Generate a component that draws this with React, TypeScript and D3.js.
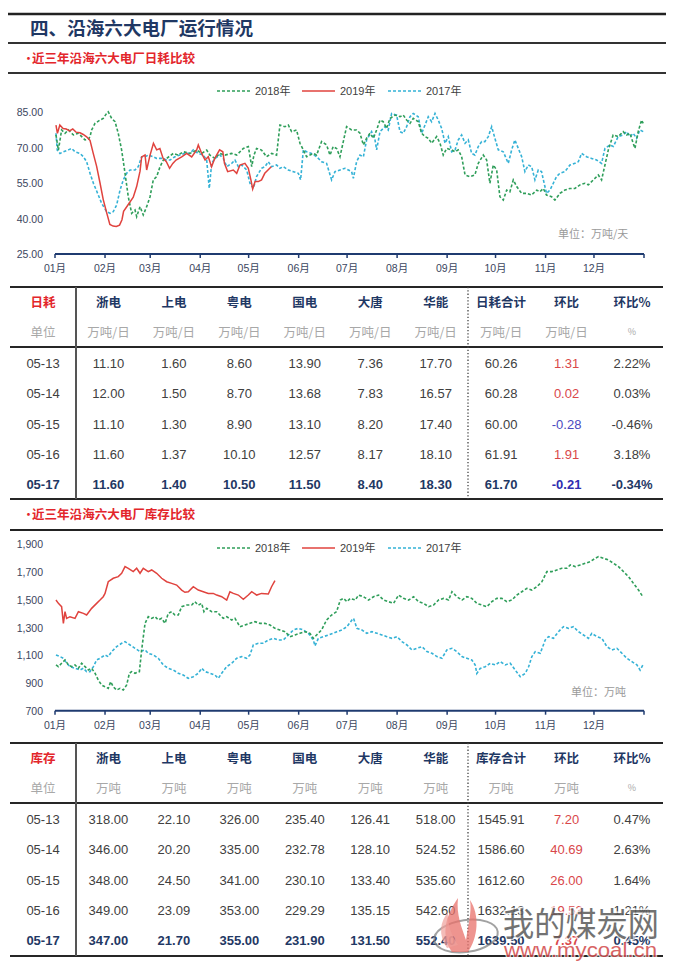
import React from "react";
import * as d3 from "d3";

// ---------- data ----------
const monthLabels = ["01月", "02月", "03月", "04月", "05月", "06月", "07月", "08月", "09月", "10月", "11月", "12月"];
const monthStartDays = [0, 31, 59, 90, 120, 151, 181, 212, 243, 273, 304, 334];
const yearEndDay = 365;

const seriesNames = ["2018年", "2019年", "2017年"];

const consumptionTicks = [25, 40, 55, 70, 85];
const stockTicks = [700, 900, 1100, 1300, 1500, 1700, 1900];

// [day of year, 万吨/天]
const consumption2019: [number, number][] = [
  [0.6, 79.5], [1.5, 76], [3, 79.5], [5, 78], [7, 77.8], [9, 77], [11, 77.8], [13, 76.5], [15.5, 76.2], [17.5, 75.5],
  [19.6, 74.5], [21.7, 73], [23.7, 67.5], [25.8, 62], [27.9, 55], [29.9, 48], [32, 42.5], [34, 37.5], [36, 36.8], [38, 36.6],
  [40, 37.2], [41.5, 39.5], [42.5, 43], [45, 45.5], [48.5, 49], [50.6, 53.5], [52.7, 60], [53.7, 66], [55.8, 66.8], [56.8, 60.5],
  [58.9, 66.8], [61, 71.8], [63, 69], [65, 69.6], [67, 65.4], [69, 64], [71, 61.2], [73, 63.3], [75, 64.7], [78.5, 66],
  [81.6, 67.5], [84.7, 66], [87.8, 69], [88.8, 71.1], [90.9, 67.5], [93, 64.7], [95, 66.1], [97, 61.9], [99, 65.4], [102, 69],
  [104, 68.2], [105, 63.3], [107, 59.8], [110.5, 60.5], [112.6, 59.1], [114.6, 62.6], [117.7, 63.3], [119.8, 61.2], [121.5, 56], [122.5, 52.5],
  [124, 55.6], [126, 55.6], [128, 56.3], [130, 59.1], [132, 60.5], [134, 61.9],
];

const consumption2018: [number, number][] = [
  [0.6, 75.3], [2.1, 68.9], [4.1, 77.4], [6.2, 76], [8.3, 77.4], [11.4, 75.3], [14.5, 76], [18.6, 73.2], [20.7, 73.5], [21.7, 74.6],
  [22.7, 77.4], [24.8, 80.2], [27.9, 81.6], [29.9, 82.3], [32, 84.4], [33, 85.1], [35.1, 82.3], [37.2, 80.9], [39.2, 76], [41.3, 68.9],
  [43.4, 59.1], [45.4, 49.2], [47.5, 42.2], [49.6, 43.6], [50.6, 40.8], [52.7, 45], [54.7, 41.5], [56.8, 45], [58.9, 49.2], [60.9, 56.3],
  [63, 57.7], [65.1, 61.9], [67.1, 64.7], [69.2, 65.4], [73.3, 67.5], [76.4, 66.8], [79.5, 68.2], [83.6, 67.5], [87.8, 68.9], [90.9, 67.5],
  [94, 68.9], [96, 66.8], [99.1, 65.4], [102.2, 67.5], [105.3, 66.8], [109.5, 67.5], [112.6, 66.8], [116.7, 69.6], [119.8, 70.4], [121.9, 61.9],
  [123.3, 66.8], [124.9, 69.6], [128, 68.9], [131.1, 66.1], [134.2, 67.5], [137.3, 66.8], [139.4, 79.5], [142.5, 78.8], [144.6, 79.5], [146.6, 76.7],
  [149.7, 77.4], [151.8, 71.8], [153.9, 69], [155.9, 66.1], [160.1, 67.5], [162.1, 66.8], [165.2, 72.5], [168.3, 71.1], [170.4, 66.8], [172.4, 70.4],
  [174.5, 69.6], [176.6, 66.1], [180.7, 78.8], [183.8, 77.4], [186.9, 77.4], [189, 76], [191.1, 71.1], [193.1, 73.9], [195.2, 76], [197.3, 73.9],
  [199.3, 77.4], [201.4, 81.6], [203.4, 80.9], [205.5, 78.1], [207.6, 82.3], [210.7, 83.7], [213.8, 83], [215.8, 83.7], [217.9, 81.6], [220, 80.2],
  [222, 82.3], [225.1, 80.9], [227.2, 76], [229.3, 74.6], [231.3, 73.9], [233.4, 71.8], [236.5, 74.6], [238.6, 71.8], [240.6, 66.8], [242.7, 69.6],
  [245.8, 69], [247.9, 68.2], [249.9, 69], [252, 66.1], [254.1, 58.4], [257.1, 57.7], [260.2, 58.4], [262.3, 63.3], [265.4, 66.8], [267.5, 64.7],
  [269.5, 54.9], [271.6, 62.6], [273.7, 60.5], [275.7, 49.2], [277.8, 47.8], [279.9, 52], [281.9, 51.3], [284, 56.3], [286.1, 53.5], [289.2, 50.6],
  [292.3, 50.6], [295.3, 49.9], [298.5, 52], [300.5, 51.3], [302.6, 52.7], [304.6, 49.9], [307.7, 49.2], [309.8, 47.8], [312.9, 50.6], [316, 52],
  [319.1, 52.7], [322.2, 52.7], [325.3, 54.2], [328.4, 54.9], [330.5, 54.2], [333.6, 56.3], [336.7, 58.4], [338.7, 56.3], [340.8, 62.6], [342.9, 69],
  [345.9, 75.3], [349, 74.6], [352.1, 76.7], [354.2, 75.3], [356.3, 76], [358.3, 71.8], [359.4, 69.6], [361.4, 76.7], [363.5, 81.6], [364.5, 80.2],
];

const consumption2017: [number, number][] = [
  [0.6, 76], [1.4, 68.9], [3.1, 67.5], [5.2, 68.2], [8.3, 69], [10.3, 69.6], [12.4, 68.2], [15.5, 67.5], [17.6, 66.1], [19.6, 64],
  [21.7, 59.1], [23.8, 54.9], [26.8, 50], [28.9, 46.4], [32, 42.9], [34.1, 42.2], [36.1, 42.9], [38.2, 45.7], [40.3, 52], [42.3, 56.3],
  [44.4, 59.1], [46.5, 60.5], [49.6, 60.5], [51.6, 61.9], [53.7, 66.1], [55.8, 66.1], [57.8, 66.8], [60.9, 66.1], [63, 65.4], [66.1, 65.4],
  [69.2, 64.7], [71.3, 64.7], [74.3, 66.1], [77.4, 66.8], [80.5, 67.5], [83.6, 67.5], [85.7, 69], [88.8, 67.5], [91.9, 66.8], [94, 64.7],
  [95.6, 52.7], [97.1, 63.3], [99.1, 65.4], [102.2, 66.8], [104.3, 65.4], [106.4, 61.9], [109.5, 63.3], [111.5, 64.7], [113.6, 61.9], [115.7, 62.6],
  [118.8, 60.5], [120.8, 54.9], [122.9, 52.7], [124.9, 57.7], [128, 61.2], [130.1, 61.9], [132.2, 64], [134.2, 61.9], [137.3, 62.6], [139.4, 61.2],
  [141.5, 61.9], [144.6, 60.5], [147.7, 59.8], [150.8, 59.1], [152.2, 56.3], [153.9, 69], [155.9, 68.2], [159, 67.5], [162.1, 66.1], [165.2, 64],
  [168.3, 63.3], [171.4, 56.3], [173.5, 59.8], [176.6, 60.5], [179.7, 61.2], [181.8, 60.5], [183.8, 59.8], [184.9, 57], [186.9, 64], [189, 66.8],
  [191.1, 66.1], [193.1, 73.2], [196.2, 76.7], [198.3, 73.2], [199.3, 69], [201.4, 76.7], [204.5, 78.8], [206.5, 77.4], [208.6, 84.4], [211.7, 83.7],
  [213.8, 76.7], [215.8, 76], [217.9, 78.8], [220, 83], [222, 84.4], [225.1, 83], [227.2, 76], [229.3, 79.5], [231.3, 83], [233.4, 80.9],
  [235.5, 84.4], [237.5, 81.6], [239.6, 78.1], [241.7, 71.8], [243.7, 74.6], [245.8, 68.2], [247.9, 69], [249.9, 73.2], [252, 75.3], [254.1, 71.8],
  [256.1, 73.2], [258.2, 67.5], [260.2, 66.8], [262.3, 70.4], [264.4, 72.5], [266.4, 72.5], [268.5, 74.6], [270.6, 78.8], [272.6, 73.9], [274.7, 69],
  [277.8, 68.2], [280.9, 63.3], [283, 69], [285, 73.2], [287.1, 69.6], [289.2, 66.1], [291.2, 59.8], [293.3, 62.6], [295.4, 61.9], [297.4, 56.3],
  [299.5, 60.5], [301.5, 59.8], [303.6, 53.5], [304.6, 50.6], [306.7, 52], [308.8, 54.9], [310.8, 57.7], [312.9, 59.1], [316, 59.8], [319.1, 62.6],
  [322.2, 63.3], [324.3, 64], [326.3, 67.5], [329.4, 66.1], [332.5, 65.4], [335.6, 64.7], [338.7, 63.3], [340.8, 69.6], [343.9, 71.1], [346, 70.4],
  [349, 74.6], [352.1, 75.3], [354.2, 76.7], [356.3, 74.6], [358.3, 76], [360.4, 73.9], [362.4, 77.4], [364.5, 76.7],
];

// [day of year, 万吨]
const stock2019: [number, number][] = [
  [0.6, 1498], [2.1, 1474], [3.1, 1462], [4.1, 1450], [5.2, 1330], [6.2, 1414], [7.2, 1366], [9.3, 1378], [12.4, 1366], [14.5, 1414],
  [17.6, 1402], [19.6, 1390], [22.7, 1438], [25.8, 1474], [27.9, 1498], [29.9, 1522], [31, 1546], [33, 1630], [36.1, 1655], [39.2, 1667],
  [41.3, 1691], [43.4, 1739], [45.4, 1727], [48.5, 1703], [50.6, 1727], [52.7, 1691], [54.7, 1727], [57.8, 1703], [59.9, 1715], [63, 1691],
  [66.1, 1655], [69.2, 1630], [72.3, 1618], [75.4, 1606], [78.5, 1570], [80.5, 1554], [82.6, 1558], [85.7, 1594], [88.8, 1570], [91.9, 1558],
  [95, 1546], [98.1, 1546], [100.2, 1534], [103.3, 1522], [106.4, 1498], [108.4, 1558], [110.5, 1546], [113.6, 1534], [116.7, 1503], [119.8, 1534],
  [121.9, 1558], [125, 1534], [128, 1546], [132.2, 1542], [134.2, 1594], [136.3, 1638],
];

const stock2018: [number, number][] = [
  [0.6, 1030], [2.1, 1018], [4.1, 1042], [6.2, 1066], [8.3, 1030], [10.3, 1018], [12.4, 1030], [14.5, 1006], [16.5, 1042], [18.6, 1018],
  [20.7, 994], [22.7, 1006], [24.8, 970], [26.8, 921], [28.9, 885], [31, 873], [33, 861], [34.5, 909], [36.1, 873], [38.2, 849],
  [40.3, 861], [42.3, 849], [44.4, 885], [46.1, 970], [47.5, 982], [49.6, 970], [52.3, 982], [53.7, 1138], [55.8, 1330], [57.8, 1378],
  [59.9, 1366], [62, 1378], [64, 1354], [66.1, 1366], [68.2, 1330], [70.2, 1402], [72.3, 1414], [74.3, 1390], [76.4, 1390], [78.5, 1450],
  [81.6, 1462], [84.7, 1462], [86.7, 1486], [88.8, 1462], [90.9, 1474], [92.3, 1414], [94, 1438], [97.1, 1414], [100.2, 1414], [102.2, 1390],
  [104.3, 1366], [106.4, 1378], [109.5, 1354], [111.5, 1366], [114.6, 1306], [117.7, 1318], [120.8, 1330], [123.9, 1342], [127, 1330], [130.1, 1330],
  [133.2, 1318], [136.3, 1294], [139.4, 1282], [142.5, 1270], [145.6, 1234], [148.7, 1246], [151.8, 1258], [154.9, 1270], [158, 1258], [160.1, 1222],
  [162.1, 1246], [165.2, 1282], [168.3, 1354], [171.4, 1390], [174.5, 1414], [176.8, 1498], [178.8, 1510], [180.9, 1486], [183, 1510], [186.1, 1498],
  [188.1, 1534], [191.2, 1522], [194.3, 1498], [197.4, 1522], [200.5, 1534], [203.6, 1498], [206.7, 1486], [209.8, 1474], [212.9, 1534], [216, 1510],
  [219.1, 1498], [222.2, 1522], [225.3, 1486], [228.4, 1474], [231.5, 1450], [234.6, 1462], [237.7, 1498], [240.8, 1510], [243.9, 1498], [246, 1558],
  [249, 1522], [252.2, 1498], [255.2, 1522], [258.3, 1510], [261.4, 1474], [264.5, 1462], [267.6, 1450], [270.7, 1486], [273.8, 1510], [276.9, 1510],
  [280, 1486], [283.1, 1498], [286.2, 1534], [289.3, 1558], [292.4, 1582], [295.5, 1570], [298.6, 1594], [301.7, 1630], [304.8, 1703], [307.9, 1703],
  [311, 1715], [314.1, 1727], [317.2, 1727], [319.3, 1751], [322.4, 1739], [325.5, 1751], [328.6, 1763], [331.7, 1775], [334.8, 1799], [336.8, 1811],
  [339.9, 1799], [343, 1787], [346.1, 1763], [349.2, 1739], [352.3, 1703], [355.4, 1667], [358.5, 1618], [361.6, 1570], [364.3, 1522],
];

const stock2017: [number, number][] = [
  [0.6, 1102], [3.1, 1090], [5.2, 1078], [7.2, 1042], [9.3, 1018], [12.4, 1006], [15.5, 994], [17.6, 1006], [19.6, 982], [21.7, 982],
  [23.8, 1018], [25.8, 1066], [27.9, 1078], [31, 1102], [33, 1090], [35.1, 1126], [38.2, 1162], [41.3, 1186], [43.4, 1198], [46.5, 1174],
  [49.6, 1150], [52.7, 1126], [55.8, 1138], [57.8, 1114], [60.9, 1102], [64, 1078], [67.1, 1030], [70.2, 1006], [73.3, 994], [76.4, 970],
  [79.5, 957], [82.6, 933], [85.7, 945], [88.8, 970], [90.9, 1006], [92.9, 982], [96, 970], [99.1, 957], [101.2, 933], [103.3, 970],
  [106.4, 1018], [109.5, 1042], [112.6, 1078], [115.7, 1090], [118.8, 1078], [120.8, 1102], [122.9, 1174], [126, 1186], [129.1, 1186], [132.2, 1210],
  [135.3, 1222], [138.4, 1210], [141.5, 1210], [144.6, 1246], [147.7, 1282], [150.8, 1294], [153.9, 1282], [157, 1258], [160.1, 1210], [161.1, 1167],
  [163.2, 1222], [166.3, 1234], [169.4, 1246], [172.4, 1258], [174.7, 1270], [177.8, 1282], [180.9, 1306], [184, 1354], [185, 1366], [187.1, 1294],
  [190.2, 1282], [193.3, 1258], [196.4, 1270], [199.5, 1258], [202.6, 1246], [205.7, 1234], [208.8, 1222], [211.9, 1234], [215, 1198], [218.1, 1174],
  [221.2, 1138], [224.3, 1150], [227.4, 1162], [230.5, 1126], [233.6, 1114], [236.7, 1090], [239.8, 1078], [242.8, 1138], [246, 1150], [249, 1126],
  [252.2, 1090], [255.2, 1078], [258.3, 1066], [260.4, 1030], [261.4, 969], [263.5, 1005], [266.6, 1017], [269.7, 1042], [272.8, 1030], [275.9, 1054],
  [279, 1030], [282.1, 1042], [285.2, 993], [288.3, 945], [291.4, 969], [293.5, 1017], [295.5, 1090], [297.6, 1126], [300.7, 1114], [303.8, 1210],
  [305.8, 1234], [308.9, 1222], [312, 1270], [315.1, 1306], [318.2, 1294], [321.3, 1306], [324.4, 1270], [327.5, 1246], [330.6, 1222], [332.7, 1258],
  [335.8, 1234], [338.9, 1222], [342, 1162], [345.1, 1138], [348.2, 1150], [351.3, 1114], [354.4, 1078], [357.5, 1054], [360.6, 1030], [362.6, 993],
  [364.3, 1030],
];

// tables
const consumptionHeaders = ["日耗", "浙电", "上电", "粤电", "国电", "大唐", "华能", "日耗合计", "环比", "环比%"];
const consumptionUnits = ["单位", "万吨/日", "万吨/日", "万吨/日", "万吨/日", "万吨/日", "万吨/日", "万吨/日", "万吨/日", "%"];
const consumptionRows = [
  ["05-13", "11.10", "1.60", "8.60", "13.90", "7.36", "17.70", "60.26", "1.31", "2.22%"],
  ["05-14", "12.00", "1.50", "8.70", "13.68", "7.83", "16.57", "60.28", "0.02", "0.03%"],
  ["05-15", "11.10", "1.30", "8.90", "13.10", "8.20", "17.40", "60.00", "-0.28", "-0.46%"],
  ["05-16", "11.60", "1.37", "10.10", "12.57", "8.17", "18.10", "61.91", "1.91", "3.18%"],
  ["05-17", "11.60", "1.40", "10.50", "11.50", "8.40", "18.30", "61.70", "-0.21", "-0.34%"],
];

const stockHeaders = ["库存", "浙电", "上电", "粤电", "国电", "大唐", "华能", "库存合计", "环比", "环比%"];
const stockUnits = ["单位", "万吨", "万吨", "万吨", "万吨", "万吨", "万吨", "万吨", "万吨", "%"];
const stockRows = [
  ["05-13", "318.00", "22.10", "326.00", "235.40", "126.41", "518.00", "1545.91", "7.20", "0.47%"],
  ["05-14", "346.00", "20.20", "335.00", "232.78", "128.10", "524.52", "1586.60", "40.69", "2.63%"],
  ["05-15", "348.00", "24.50", "341.00", "230.10", "133.40", "535.60", "1612.60", "26.00", "1.64%"],
  ["05-16", "349.00", "23.09", "353.00", "229.29", "135.15", "542.60", "1632.13", "19.53", "1.21%"],
  ["05-17", "347.00", "21.70", "355.00", "231.90", "131.50", "552.40", "1639.50", "7.37", "0.45%"],
];

// ---------- style ----------
const W = 677;
const H = 968;
const NAVY = "#1f3864";
const RED_TITLE = "#e3262b";
const GREEN = "#2f9e5a";
const RED = "#e0433e";
const BLUE = "#35b2d6";
const AXIS = "#1f3b70";
const TICK_TEXT = "#3b4660";
const NUM_FONT = "'Liberation Sans', Arial, 'Noto Sans CJK SC', sans-serif";
const CJK_FONT = "'Noto Sans CJK SC', 'Liberation Sans', sans-serif";

const x = d3.scaleLinear().domain([0, yearEndDay]).range([55, 644]);

type ChartProps = {
  top: number;
  yDomain: [number, number];
  yRange: [number, number];
  ticks: number[];
  fmt: (v: number) => string;
  s2018: [number, number][];
  s2019: [number, number][];
  s2017: [number, number][];
  legendY: number;
  unitText: string;
  unitX: number;
  unitY: number;
};

function LineChart(p: ChartProps) {
  const y = d3.scaleLinear().domain(p.yDomain).range(p.yRange);
  const line = d3
    .line<[number, number]>()
    .x((d) => x(d[0]))
    .y((d) => y(d[1]));
  const axisY = y(p.yDomain[0]);
  const ticksX = [...monthStartDays, yearEndDay];
  const legendItems = [
    { name: seriesNames[0], color: GREEN, dash: "3,2", x0: 217 },
    { name: seriesNames[1], color: RED, dash: "none", x0: 302 },
    { name: seriesNames[2], color: BLUE, dash: "3,2", x0: 388 },
  ];
  return (
    <g>
      {/* legend */}
      {legendItems.map((it) => (
        <g key={it.name}>
          <line x1={it.x0} x2={it.x0 + 33} y1={p.legendY} y2={p.legendY} stroke={it.color} strokeWidth={1.6} strokeDasharray={it.dash} />
          <text x={it.x0 + 38} y={p.legendY + 4} fontSize={11} fill="#404040" fontFamily={NUM_FONT}>
            {it.name}
          </text>
        </g>
      ))}
      {/* y labels */}
      {p.ticks.map((t) => (
        <text key={t} x={43} y={y(t) + 4} fontSize={10.5} textAnchor="end" fill={TICK_TEXT} fontFamily={NUM_FONT}>
          {p.fmt(t)}
        </text>
      ))}
      {/* series */}
      <path d={line(p.s2017) || ""} fill="none" stroke={BLUE} strokeWidth={1.6} strokeDasharray="3,2" />
      <path d={line(p.s2018) || ""} fill="none" stroke={GREEN} strokeWidth={1.6} strokeDasharray="3,2" />
      <path d={line(p.s2019) || ""} fill="none" stroke={RED} strokeWidth={1.5} />
      {/* x axis */}
      <line x1={x(0)} x2={x(yearEndDay)} y1={axisY} y2={axisY} stroke={AXIS} strokeWidth={2} />
      {ticksX.map((d) => (
        <line key={d} x1={x(d)} x2={x(d)} y1={axisY} y2={axisY + 4} stroke={AXIS} strokeWidth={1.5} />
      ))}
      {monthLabels.map((m, i) => (
        <text key={m} x={x(monthStartDays[i])} y={axisY + 18} fontSize={10.5} textAnchor="middle" fill={TICK_TEXT} fontFamily={NUM_FONT}>
          {m}
        </text>
      ))}
      <text x={p.unitX} y={p.unitY} fontSize={11} fill="#9a9a9a" fontFamily={CJK_FONT}>
        {p.unitText}
      </text>
    </g>
  );
}

type TableProps = {
  top: number;
  bottom: number;
  headers: string[];
  units: string[];
  rows: string[][];
};

const col = d3.scalePoint<number>().domain(d3.range(10)).range([43, 632]);

function DataTable(p: TableProps) {
  const headerY = p.top + 15;
  const unitY = p.top + 45;
  const sepY = p.top + 60;
  const rowY = d3.scalePoint<number>().domain(d3.range(5)).range([p.top + 76, p.top + 197]);
  return (
    <g>
      <line x1={10} x2={663} y1={p.top} y2={p.top} stroke="#262626" strokeWidth={2} />
      <line x1={10} x2={663} y1={sepY} y2={sepY} stroke="#262626" strokeWidth={2} />
      <line x1={10} x2={663} y1={p.bottom} y2={p.bottom} stroke="#262626" strokeWidth={2} />
      <line x1={76} x2={76} y1={p.top} y2={p.bottom} stroke="#555" strokeWidth={2} />
      <line x1={468} x2={468} y1={p.top} y2={p.bottom} stroke="#444" strokeWidth={1.3} strokeDasharray="1.3,2" />
      {p.headers.map((h, i) => (
        <text key={"h" + i} x={col(i)} y={headerY + 5} textAnchor="middle" fontSize={12.5} fontWeight="bold" fill={i === 0 ? RED_TITLE : NAVY} fontFamily={CJK_FONT}>
          {h}
        </text>
      ))}
      {p.units.map((u, i) => (
        <text key={"u" + i} x={col(i)} y={unitY + (u === "%" ? 3 : 4.5)} textAnchor="middle" fontSize={u === "%" ? 9 : 12.5} fill="#a8a8a8" fontFamily={CJK_FONT}>
          {u}
        </text>
      ))}
      {p.rows.map((r, ri) => {
        const last = ri === p.rows.length - 1;
        return r.map((v, ci) => {
          let fill = last ? NAVY : "#404040";
          if (ci === 8) {
            const neg = v.startsWith("-");
            fill = neg ? (last ? "#2e2eb0" : "#4a4ac0") : "#d9474a";
          }
          return (
            <text
              key={ri + "-" + ci}
              x={col(ci)}
              y={(rowY(ri) as number) + 5}
              textAnchor="middle"
              fontSize={13}
              fontWeight={last ? "bold" : "normal"}
              fill={fill}
              fontFamily={NUM_FONT}
            >
              {v}
            </text>
          );
        });
      })}
    </g>
  );
}

function Watermark() {
  return (
    <g>
      <ellipse cx={466} cy={936} rx={32} ry={16} fill="none" stroke="#7a7a7a" strokeWidth={2} opacity={0.7} transform="rotate(-8 466 936)" />
      <path d="M452,952 C440,935 446,915 458,898 C456,915 462,928 466,940 C468,925 472,912 470,900 C480,915 478,938 468,952 Z" fill="#e8706a" opacity={0.75} />
      <path d="M447,948 C438,935 440,922 448,912 C447,925 452,936 458,945 Z" fill="#f0a09a" opacity={0.7} />
      <text
        x={503}
        y={936}
        fontSize={33}
        fill="#5a5a5a"
        opacity={0.85}
        fontFamily={CJK_FONT}
        textLength={156}
        lengthAdjust="spacingAndGlyphs"
        stroke="rgba(255,255,255,0.85)"
        strokeWidth={3}
        style={{ paintOrder: "stroke" }}
      >
        我的煤炭网
      </text>
      <text
        x={504}
        y={957}
        fontSize={21}
        fill="#d24a4a"
        opacity={0.85}
        fontFamily={NUM_FONT}
        textLength={153}
        lengthAdjust="spacingAndGlyphs"
        stroke="rgba(255,255,255,0.85)"
        strokeWidth={2.5}
        style={{ paintOrder: "stroke" }}
      >
        www.mycoal.cn
      </text>
    </g>
  );
}

export default function App() {
  return (
    <svg width={W} height={H} viewBox={`0 0 ${W} ${H}`} style={{ position: "absolute", left: 0, top: 0, background: "#fff" }}>
      <rect x={0} y={0} width={W} height={H} fill="#fff" />
      {/* page header */}
      <line x1={8} x2={666} y1={14} y2={14} stroke="#222" strokeWidth={2.5} />
      <text x={30} y={35} fontSize={18} fontWeight="bold" fill={NAVY} fontFamily={CJK_FONT} textLength={223} lengthAdjust="spacingAndGlyphs">
        四、沿海六大电厂运行情况
      </text>
      <line x1={8} x2={666} y1={43} y2={43} stroke="#333" strokeWidth={2} />
      <text x={22} y={63} fontSize={13} fill={RED_TITLE} fontFamily={CJK_FONT}>•</text>
      <text x={32} y={63} fontSize={12.5} fontWeight="bold" fill={RED_TITLE} fontFamily={CJK_FONT} textLength={163} lengthAdjust="spacingAndGlyphs">
        近三年沿海六大电厂日耗比较
      </text>
      <line x1={8} x2={666} y1={73} y2={73} stroke="#333" strokeWidth={2} />

      <LineChart
        top={80}
        yDomain={[25, 85]}
        yRange={[254, 112]}
        ticks={consumptionTicks}
        fmt={(v) => d3.format(".2f")(v)}
        s2018={consumption2018}
        s2019={consumption2019}
        s2017={consumption2017}
        legendY={91}
        unitText="单位：万吨/天"
        unitX={558}
        unitY={238}
      />

      <DataTable top={287} bottom={499} headers={consumptionHeaders} units={consumptionUnits} rows={consumptionRows} />

      <text x={22} y={519} fontSize={13} fill={RED_TITLE} fontFamily={CJK_FONT}>•</text>
      <text x={32} y={519} fontSize={12.5} fontWeight="bold" fill={RED_TITLE} fontFamily={CJK_FONT} textLength={163} lengthAdjust="spacingAndGlyphs">
        近三年沿海六大电厂库存比较
      </text>
      <line x1={10} x2={663} y1={530} y2={530} stroke="#222" strokeWidth={2} />

      <LineChart
        top={530}
        yDomain={[700, 1900]}
        yRange={[710.7, 544.3]}
        ticks={stockTicks}
        fmt={(v) => d3.format(",")(v)}
        s2018={stock2018}
        s2019={stock2019}
        s2017={stock2017}
        legendY={548}
        unitText="单位：万吨"
        unitX={571}
        unitY={696}
      />

      <DataTable top={743} bottom={956} headers={stockHeaders} units={stockUnits} rows={stockRows} />

      <Watermark />
    </svg>
  );
}
